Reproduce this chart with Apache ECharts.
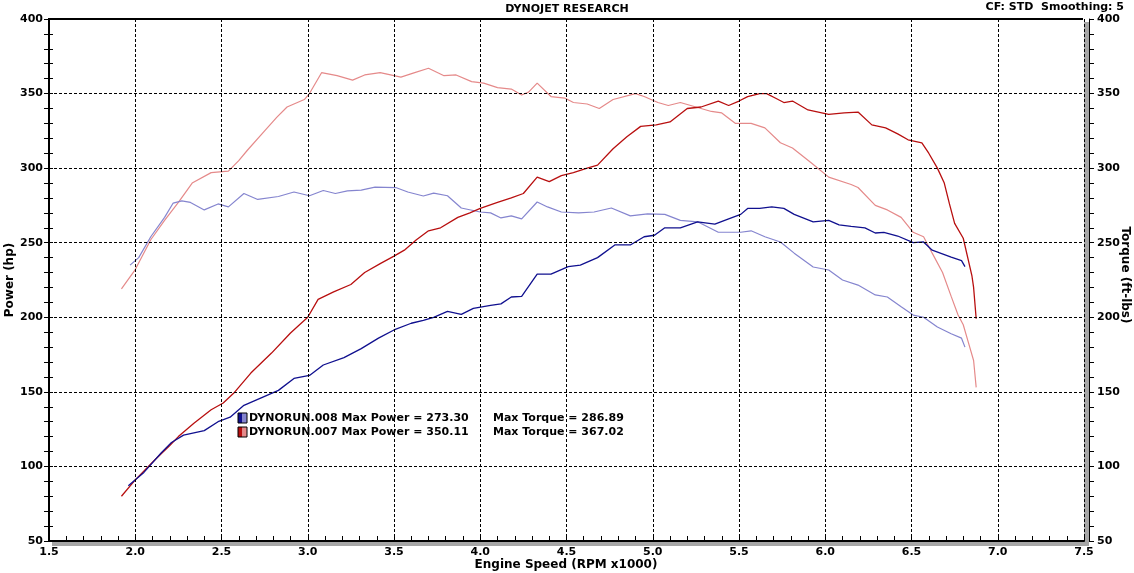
<!DOCTYPE html>
<html>
<head>
<meta charset="utf-8">
<script src="https://cdn.jsdelivr.net/npm/echarts@6/dist/echarts.min.js"></script>
<style>
html,body{margin:0;padding:0;background:#fff;}
#chart{width:1134px;height:573px;}
</style>
</head>
<body>
<div id="chart"></div>
<script>
// ---- Data ----
const xTicks = ['1.5','2.0','2.5','3.0','3.5','4.0','4.5','5.0','5.5','6.0','6.5','7.0','7.5'];
const yTicks = [50,100,150,200,250,300,350,400];

const runNames = ['DYNORUN.008','DYNORUN.007'];
const maxPower = ['273.30','350.11'];
const maxTorque = ['286.89','367.02'];

// DYNORUN.007 power (hp)
const rpm007P = [1.92,2.00,2.11,2.20,2.25,2.34,2.44,2.51,2.57,2.67,2.79,2.90,3.00,3.06,3.15,3.25,3.33,3.42,3.50,3.56,3.63,3.70,3.77,3.87,3.94,4.00,4.10,4.18,4.25,4.33,4.40,4.47,4.54,4.62,4.68,4.77,4.85,4.93,5.02,5.10,5.20,5.28,5.38,5.44,5.50,5.55,5.62,5.66,5.71,5.76,5.81,5.90,6.02,6.11,6.19,6.27,6.35,6.42,6.48,6.56,6.60,6.65,6.69,6.72,6.75,6.80,6.83,6.85,6.86,6.875];
const hp007 =   [80,91,104,114,120,129,138,142.5,149,162.6,176,189.5,200,212,217,222,230,236,241,245,252,258,260,267,270,273,277,280,283,294,291,295,297,300,302,313,321,328,329,331,340,341,345,342,345,348,350,350,347,344,345,339,336,337,337.6,329,327,323,319,317,310,300,290,276,263,253,238,228,220,199];

// DYNORUN.008 power (hp)
const rpm008P = [1.96,2.05,2.15,2.21,2.28,2.40,2.48,2.55,2.63,2.73,2.83,2.92,3.01,3.09,3.21,3.31,3.41,3.50,3.60,3.67,3.73,3.81,3.89,3.96,4.06,4.12,4.18,4.24,4.33,4.41,4.51,4.58,4.68,4.78,4.87,4.95,5.01,5.07,5.16,5.26,5.36,5.44,5.51,5.55,5.62,5.69,5.76,5.82,5.93,6.02,6.08,6.15,6.23,6.29,6.34,6.42,6.51,6.57,6.62,6.73,6.79,6.81];
const hp008 =   [87,96,109,116,121,124,130,133,141,146,151,159,161,168,173,179,186,191.5,196,198,200,204,202,206,208,209,213.6,214,229,229,234,235,240,248.5,248.5,254,255,260,260,264,262.5,266,269,273,273,274,273,269,264,265,262,261,260,256.5,257,254.5,250,250.5,245,240.4,238,234];

// DYNORUN.007 torque (ft-lbs)
const rpm007T = [1.92,2.00,2.09,2.17,2.25,2.33,2.44,2.54,2.60,2.65,2.75,2.82,2.88,2.98,3.01,3.08,3.17,3.26,3.33,3.42,3.54,3.62,3.70,3.79,3.86,3.95,4.02,4.10,4.18,4.24,4.28,4.33,4.41,4.49,4.54,4.62,4.69,4.77,4.90,4.95,5.03,5.09,5.16,5.22,5.34,5.40,5.48,5.57,5.65,5.74,5.81,5.92,6.02,6.15,6.19,6.29,6.36,6.44,6.51,6.57,6.62,6.68,6.73,6.77,6.80,6.83,6.86,6.875];
const tq007 =   [219,232,252,265,277,290,297,298,305,312,325,334,341,346,350,364,362,359,362.5,364,361,364,367,362,362.5,358,357,354,353,349,351,357,348,347,344,343,340,346,350,348,344,342,344,342,338,337,330,330,327,317,313.5,303.5,294,289,287,275,272,267,257,254,243,230,214,201.5,195,183,171,153];

// DYNORUN.008 torque (ft-lbs)
const rpm008T = [1.97,2.02,2.09,2.17,2.22,2.27,2.32,2.40,2.48,2.54,2.63,2.71,2.83,2.92,3.01,3.09,3.16,3.23,3.31,3.39,3.51,3.58,3.67,3.73,3.81,3.89,4.00,4.06,4.12,4.18,4.24,4.33,4.39,4.47,4.57,4.66,4.76,4.87,4.97,5.07,5.16,5.26,5.38,5.51,5.57,5.65,5.74,5.82,5.93,6.02,6.10,6.19,6.29,6.36,6.44,6.51,6.57,6.65,6.73,6.79,6.81];
const tq008 =   [235,240,254,267,276.6,278,277,272,276,274,283,279,281,284,281.5,285,283,284.7,285.3,287.3,287,284,281.3,283.3,281.5,273.3,270.6,270,266.6,268,266,277.3,274,270.6,270,270.6,273.3,268,269.3,269,265,264,257,257,258,254,250.5,243,233.7,231.7,225,221.6,215,213.6,207,201.5,200,193.5,189,186,180];

const axisNames = {x: 'Engine Speed (RPM x1000)', left: 'Power (hp)', right: 'Torque (ft-lbs)'};

// ---- Styles ----
const C_RED = '#b80f0f', C_RED_L = '#e58a8a', C_BLUE = '#10108f', C_BLUE_L = '#8585cf';
const FONT = 'DejaVu Sans';
const zip = (a, b) => a.map((v, i) => [v, b[i]]);

const G = {left: 49, right: 50, top: 19, bottom: 32};
const W = 1134, H = 573;
const PL = G.left, PR = W - G.right, PT = G.top, PB = H - G.bottom;

const chart = echarts.init(document.getElementById('chart'), null, {renderer: 'canvas'});

const yBase = {
  type: 'value', min: 50, max: 400, interval: 50, z: 5,
  splitLine: {show: false}
};

const legendIcons = [[C_BLUE, C_BLUE_L], [C_RED, C_RED_L]];
const legendGraphics = [];
runNames.forEach((n, i) => {
  const y = 413 + i * 14;
  legendGraphics.push({type: 'rect', shape: {x: 238, y: y, width: 4.5, height: 10}, style: {fill: legendIcons[i][0]}, z: 100});
  legendGraphics.push({type: 'rect', shape: {x: 242.5, y: y, width: 4.5, height: 10}, style: {fill: legendIcons[i][1]}, z: 100});
  legendGraphics.push({type: 'rect', shape: {x: 238, y: y, width: 9, height: 10}, style: {fill: 'none', stroke: '#000', lineWidth: 1}, z: 101});
  legendGraphics.push({type: 'text', x: 249, y: y + 5, style: {text: n + ' Max Power = ' + maxPower[i], font: 'bold 11px ' + FONT, fill: '#000', textVerticalAlign: 'middle'}, z: 100});
  legendGraphics.push({type: 'text', x: 493, y: y + 5, style: {text: 'Max Torque = ' + maxTorque[i], font: 'bold 11px ' + FONT, fill: '#000', textVerticalAlign: 'middle'}, z: 100});
});

const nameFont = 'bold 12px ' + FONT;

const option = {
  backgroundColor: '#fff',
  animation: false,
  grid: {left: G.left, right: G.right, top: G.top, bottom: G.bottom, containLabel: false, outerBoundsMode: 'none'},
  xAxis: {
    type: 'value', min: 1.5, max: 7.5, interval: 0.5, z: 5,
    axisLine: {show: true, lineStyle: {color: '#000', width: 2}},
    axisTick: {show: true, inside: true, length: 5, lineStyle: {color: '#000'}},
    minorTick: {show: true, splitNumber: 5, length: 5, lineStyle: {color: '#000'}},
    axisLabel: {margin: 6, fontFamily: FONT, fontWeight: 'bold', fontSize: 11, color: '#000',
      formatter: v => xTicks[Math.round((v - 1.5) / 0.5)] || v.toFixed(1)},
    splitLine: {show: true, lineStyle: {color: '#000', width: 1, type: [3, 2]}}
  },
  yAxis: [
    Object.assign({}, yBase, {
      position: 'left',
      axisLine: {show: true, lineStyle: {color: '#000', width: 2}},
      axisTick: {show: true, inside: false, length: 5, lineStyle: {color: '#000'}},
      minorTick: {show: true, splitNumber: 5, length: 5, lineStyle: {color: '#000'}},
      axisLabel: {margin: 6, fontFamily: FONT, fontWeight: 'bold', fontSize: 11, color: '#000',
        formatter: v => String(yTicks[Math.round((v - 50) / 50)] ?? v)},
      splitLine: {show: true, lineStyle: {color: '#000', width: 1, type: [3, 2]}}
    }),
    Object.assign({}, yBase, {
      position: 'right', offset: 5,
      axisLine: {show: true, lineStyle: {color: '#000', width: 1}},
      axisTick: {show: true, inside: false, length: 5, lineStyle: {color: '#000'}},
      minorTick: {show: true, splitNumber: 5, length: 5, lineStyle: {color: '#000'}},
      axisLabel: {margin: 8, fontFamily: FONT, fontWeight: 'bold', fontSize: 11, color: '#000',
        formatter: v => String(yTicks[Math.round((v - 50) / 50)] ?? v)}
    }),
    Object.assign({}, yBase, {
      position: 'left', offset: 0,
      axisLine: {show: false},
      axisTick: {show: true, inside: true, length: 4, lineStyle: {color: '#000'}},
      minorTick: {show: true, splitNumber: 5, length: 4, lineStyle: {color: '#000'}},
      axisLabel: {show: false}
    })
  ],
  graphic: [
    {type: 'line', shape: {x1: PL - 1, y1: PT, x2: PR - 1, y2: PT}, style: {stroke: '#000', lineWidth: 2}, z: 50},
    {type: 'rect', shape: {x: PR, y: PT + 3, width: 5, height: PB - PT + 2}, style: {fill: '#a6a6a6'}, z: 0},
    {type: 'rect', shape: {x: PL + 3, y: PB + 1, width: PR - PL + 2, height: 4}, style: {fill: '#a6a6a6'}, z: 0},
    {type: 'text', x: W / 2, y: 9, style: {text: 'DYNOJET RESEARCH', font: 'bold 11px ' + FONT, fill: '#000', textAlign: 'center', textVerticalAlign: 'middle'}},
    {type: 'text', x: 1124, y: 7, style: {text: 'CF: STD  Smoothing: 5', font: 'bold 11px ' + FONT, fill: '#000', textAlign: 'right', textVerticalAlign: 'middle'}},
    {type: 'text', x: 566, y: 565, style: {text: axisNames.x, font: nameFont, fill: '#000', textAlign: 'center', textVerticalAlign: 'middle'}},
    {type: 'text', x: 10, y: 280, rotation: Math.PI / 2, style: {text: axisNames.left, font: nameFont, fill: '#000', textAlign: 'center', textVerticalAlign: 'middle'}},
    {type: 'text', x: 1125, y: 275, rotation: -Math.PI / 2, style: {text: axisNames.right, font: nameFont, fill: '#000', textAlign: 'center', textVerticalAlign: 'middle'}}
  ].concat(legendGraphics),
  series: [
    {name: runNames[1] + ' Torque', type: 'line', yAxisIndex: 1, data: zip(rpm007T, tq007), showSymbol: false, lineStyle: {color: C_RED_L, width: 1.2}, z: 2},
    {name: runNames[0] + ' Torque', type: 'line', yAxisIndex: 1, data: zip(rpm008T, tq008), showSymbol: false, lineStyle: {color: C_BLUE_L, width: 1.2}, z: 2},
    {name: runNames[1] + ' Power', type: 'line', yAxisIndex: 0, data: zip(rpm007P, hp007), showSymbol: false, lineStyle: {color: C_RED, width: 1.3}, z: 3},
    {name: runNames[0] + ' Power', type: 'line', yAxisIndex: 0, data: zip(rpm008P, hp008), showSymbol: false, lineStyle: {color: C_BLUE, width: 1.3}, z: 3}
  ]
};
chart.setOption(option);
</script>
</body>
</html>
